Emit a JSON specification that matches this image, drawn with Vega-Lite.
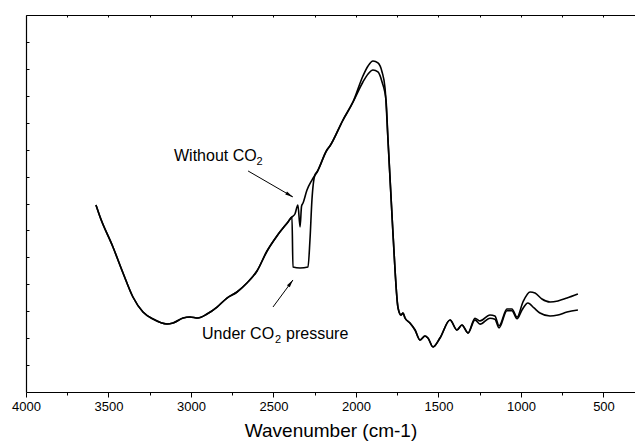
{
  "$schema": "https://vega.github.io/schema/vega-lite/v6.json",
  "width": 609,
  "height": 377,
  "autosize": {"type": "none"},
  "padding": {"left": 26, "top": 15, "right": 0, "bottom": 54},
  "background": "white",
  "config": {
    "view": {"stroke": null},
    "font": "Liberation Sans",
    "axis": {"grid": false, "domainColor": "black", "tickColor": "black", "labelColor": "black", "titleColor": "black", "labelFont": "Liberation Sans", "titleFont": "Liberation Sans", "domainWidth": 1.2, "tickWidth": 1}
  },
  "datasets": {
    "spectra": [
      {"series": "A", "wn": 3576, "t": 34.72}, {"series": "A", "wn": 3551, "t": 32.49}, {"series": "A", "wn": 3473, "t": 26.92}, {"series": "A", "wn": 3412, "t": 22.10}, {"series": "A", "wn": 3352, "t": 17.64}, {"series": "A", "wn": 3291, "t": 14.85}, {"series": "A", "wn": 3230, "t": 13.55}, {"series": "A", "wn": 3145, "t": 12.63}, {"series": "A", "wn": 3109, "t": 12.81}, {"series": "A", "wn": 3048, "t": 13.74}, {"series": "A", "wn": 3006, "t": 13.93}, {"series": "A", "wn": 2958, "t": 13.74}, {"series": "A", "wn": 2903, "t": 14.48}, {"series": "A", "wn": 2842, "t": 15.78}, {"series": "A", "wn": 2782, "t": 17.45}, {"series": "A", "wn": 2721, "t": 18.57}, {"series": "A", "wn": 2661, "t": 20.24}, {"series": "A", "wn": 2600, "t": 22.47}, {"series": "A", "wn": 2539, "t": 26.18}, {"series": "A", "wn": 2479, "t": 28.97}, {"series": "A", "wn": 2412, "t": 31.57}, {"series": "A", "wn": 2388, "t": 32.49},
      {"series": "A", "wn": 2370, "t": 33.05}, {"series": "A", "wn": 2352, "t": 34.72}, {"series": "A", "wn": 2339, "t": 30.64}, {"series": "A", "wn": 2330, "t": 34.5}, {"series": "A", "wn": 2321, "t": 35.09}, {"series": "A", "wn": 2297, "t": 37.51}, {"series": "A", "wn": 2267, "t": 39.36},
      {"series": "A", "wn": 2236, "t": 40.85}, {"series": "A", "wn": 2176, "t": 44.93}, {"series": "A", "wn": 2158, "t": 45.68}, {"series": "A", "wn": 2079, "t": 50.50}, {"series": "A", "wn": 2018, "t": 53.85},
      {"series": "A", "wn": 1958, "t": 58.67}, {"series": "A", "wn": 1927, "t": 60.53}, {"series": "A", "wn": 1897, "t": 61.46}, {"series": "A", "wn": 1867, "t": 61.09}, {"series": "A", "wn": 1842, "t": 59.42}, {"series": "A", "wn": 1824, "t": 56.45},
      {"series": "A", "wn": 1806, "t": 46.79}, {"series": "A", "wn": 1776, "t": 29.52}, {"series": "A", "wn": 1745, "t": 15.60}, {"series": "A", "wn": 1727, "t": 14.30}, {"series": "A", "wn": 1715, "t": 14.67}, {"series": "A", "wn": 1703, "t": 13.74}, {"series": "A", "wn": 1673, "t": 12.81}, {"series": "A", "wn": 1642, "t": 11.51}, {"series": "A", "wn": 1612, "t": 9.66}, {"series": "A", "wn": 1582, "t": 10.40}, {"series": "A", "wn": 1564, "t": 10.03}, {"series": "A", "wn": 1533, "t": 8.36}, {"series": "A", "wn": 1491, "t": 10.03}, {"series": "A", "wn": 1430, "t": 13.37}, {"series": "A", "wn": 1388, "t": 11.51}, {"series": "A", "wn": 1358, "t": 12.44}, {"series": "A", "wn": 1321, "t": 10.96}, {"series": "A", "wn": 1279, "t": 13.7}, {"series": "A", "wn": 1248, "t": 13.2}, {"series": "A", "wn": 1188, "t": 14.3}, {"series": "A", "wn": 1158, "t": 14.1}, {"series": "A", "wn": 1133, "t": 12.3}, {"series": "A", "wn": 1085, "t": 15.4}, {"series": "A", "wn": 1055, "t": 15.4}, {"series": "A", "wn": 1024, "t": 13.9},
      {"series": "A", "wn": 988, "t": 16.71}, {"series": "A", "wn": 945, "t": 18.57}, {"series": "A", "wn": 915, "t": 18.38}, {"series": "A", "wn": 873, "t": 17.27}, {"series": "A", "wn": 824, "t": 16.71}, {"series": "A", "wn": 776, "t": 16.90}, {"series": "A", "wn": 721, "t": 17.45}, {"series": "A", "wn": 655, "t": 18.20},
      {"series": "B", "wn": 3576, "t": 34.72}, {"series": "B", "wn": 3551, "t": 32.49}, {"series": "B", "wn": 3473, "t": 26.92}, {"series": "B", "wn": 3412, "t": 22.10}, {"series": "B", "wn": 3352, "t": 17.64}, {"series": "B", "wn": 3291, "t": 14.85}, {"series": "B", "wn": 3230, "t": 13.55}, {"series": "B", "wn": 3145, "t": 12.63}, {"series": "B", "wn": 3109, "t": 12.81}, {"series": "B", "wn": 3048, "t": 13.74}, {"series": "B", "wn": 3006, "t": 13.93}, {"series": "B", "wn": 2958, "t": 13.74}, {"series": "B", "wn": 2903, "t": 14.48}, {"series": "B", "wn": 2842, "t": 15.78}, {"series": "B", "wn": 2782, "t": 17.45}, {"series": "B", "wn": 2721, "t": 18.57}, {"series": "B", "wn": 2661, "t": 20.24}, {"series": "B", "wn": 2600, "t": 22.47}, {"series": "B", "wn": 2539, "t": 26.18}, {"series": "B", "wn": 2479, "t": 28.97}, {"series": "B", "wn": 2412, "t": 31.57}, {"series": "B", "wn": 2388, "t": 32.49},
      {"series": "B", "wn": 2382, "t": 23.21}, {"series": "B", "wn": 2339, "t": 23.02}, {"series": "B", "wn": 2291, "t": 23.21}, {"series": "B", "wn": 2279, "t": 28.22}, {"series": "B", "wn": 2267, "t": 35.65}, {"series": "B", "wn": 2249, "t": 40.29},
      {"series": "B", "wn": 2236, "t": 40.85}, {"series": "B", "wn": 2176, "t": 44.93}, {"series": "B", "wn": 2158, "t": 45.68}, {"series": "B", "wn": 2079, "t": 50.50}, {"series": "B", "wn": 2018, "t": 53.85},
      {"series": "B", "wn": 1958, "t": 57.56}, {"series": "B", "wn": 1927, "t": 59.05}, {"series": "B", "wn": 1897, "t": 59.79}, {"series": "B", "wn": 1867, "t": 59.42}, {"series": "B", "wn": 1842, "t": 57.56}, {"series": "B", "wn": 1818, "t": 54.22},
      {"series": "B", "wn": 1806, "t": 46.79}, {"series": "B", "wn": 1776, "t": 29.52}, {"series": "B", "wn": 1745, "t": 15.60}, {"series": "B", "wn": 1727, "t": 14.30}, {"series": "B", "wn": 1715, "t": 14.67}, {"series": "B", "wn": 1703, "t": 13.74}, {"series": "B", "wn": 1673, "t": 12.81}, {"series": "B", "wn": 1642, "t": 11.51}, {"series": "B", "wn": 1612, "t": 9.66}, {"series": "B", "wn": 1582, "t": 10.40}, {"series": "B", "wn": 1564, "t": 10.03}, {"series": "B", "wn": 1533, "t": 8.36}, {"series": "B", "wn": 1491, "t": 10.03}, {"series": "B", "wn": 1430, "t": 13.37}, {"series": "B", "wn": 1388, "t": 11.51}, {"series": "B", "wn": 1358, "t": 12.44}, {"series": "B", "wn": 1321, "t": 10.96}, {"series": "B", "wn": 1279, "t": 13.4}, {"series": "B", "wn": 1248, "t": 12.6}, {"series": "B", "wn": 1188, "t": 13.7}, {"series": "B", "wn": 1158, "t": 13.5}, {"series": "B", "wn": 1133, "t": 11.9}, {"series": "B", "wn": 1085, "t": 15.1}, {"series": "B", "wn": 1055, "t": 15.1}, {"series": "B", "wn": 1024, "t": 13.6},
      {"series": "B", "wn": 994, "t": 15.23}, {"series": "B", "wn": 958, "t": 16.53}, {"series": "B", "wn": 921, "t": 15.60}, {"series": "B", "wn": 885, "t": 14.67}, {"series": "B", "wn": 824, "t": 14.11}, {"series": "B", "wn": 776, "t": 14.30}, {"series": "B", "wn": 721, "t": 14.85}, {"series": "B", "wn": 655, "t": 15.23}
    ],
    "labels": [
      {"name": "w", "label": "Without CO", "wn": 3103, "t": 42.89},
      {"name": "u", "label": "Under CO", "wn": 2933, "t": 9.84},
      {"name": "p", "label": "pressure", "wn": 2424, "t": 9.84}
    ],
    "subs": [
      {"label": "2", "wn": 2603, "t": 42.15},
      {"label": "2", "wn": 2491, "t": 9.10}
    ],
    "arrows": [
      {"name": "w", "wn": 2654, "t": 41.04, "wn2": 2382, "t2": 36.21},
      {"name": "u", "wn": 2503, "t": 15.78, "wn2": 2382, "t2": 20.80}
    ],
    "heads": [
      {"name": "w", "wn": 2403, "t": 36.58},
      {"name": "u", "wn": 2396, "t": 20.20}
    ]
  },
  "resolve": {"axis": {"x": "independent", "y": "independent"}},
  "layer": [
    {
      "data": {"name": "spectra"},
      "mark": {"type": "line", "color": "black", "strokeWidth": 1.6, "clip": true, "interpolate": "monotone"},
      "encoding": {
        "x": {"field": "wn", "type": "quantitative", "scale": {"domain": [4000, 309], "nice": false, "zero": false},
          "axis": {"orient": "bottom", "title": "Wavenumber (cm-1)", "values": [4000, 3750, 3500, 3250, 3000, 2750, 2500, 2250, 2000, 1750, 1500, 1250, 1000, 750, 500], "format": "d", "labelExpr": "datum.value % 500 === 0 ? datum.label : ''", "tickSize": {"condition": {"test": "datum.value % 500 === 0", "value": 5}, "value": 3}, "labelFontSize": 13, "labelPadding": 3, "labelFlush": false, "labelOverlap": false, "titleFontSize": 19, "titleFontWeight": "normal", "titlePadding": 8}},
        "y": {"field": "t", "type": "quantitative", "scale": {"domain": [0, 70], "nice": false, "zero": false},
          "axis": {"orient": "left", "title": null, "values": [5, 10, 15, 20, 25, 30, 35, 40, 45, 50, 55, 60, 65], "labels": false, "tickSize": -3}},
        "detail": {"field": "series"}
      }
    },
    {
      "data": {"name": "arrows"},
      "mark": {"type": "rule", "color": "black", "strokeWidth": 1},
      "encoding": {
        "x": {"field": "wn", "type": "quantitative", "axis": {"orient": "top", "title": null, "labels": false, "values": [4000, 3750, 3500, 3250, 3000, 2750, 2500, 2250, 2000, 1750, 1500, 1250, 1000, 750, 500], "tickSize": -2}},
        "x2": {"field": "wn2"},
        "y": {"field": "t", "type": "quantitative", "axis": null},
        "y2": {"field": "t2"}
      }
    },
    {
      "data": {"name": "heads"},
      "transform": [{"filter": "datum.name === 'w'"}],
      "mark": {"type": "point", "shape": "M0,-1L0.45,1L-0.45,1Z", "filled": true, "color": "black", "opacity": 1, "size": 60, "angle": 120},
      "encoding": {
        "x": {"field": "wn", "type": "quantitative", "axis": null},
        "y": {"field": "t", "type": "quantitative", "axis": null}
      }
    },
    {
      "data": {"name": "heads"},
      "transform": [{"filter": "datum.name === 'u'"}],
      "mark": {"type": "point", "shape": "M0,-1L0.45,1L-0.45,1Z", "filled": true, "color": "black", "opacity": 1, "size": 60, "angle": 36},
      "encoding": {
        "x": {"field": "wn", "type": "quantitative", "axis": null},
        "y": {"field": "t", "type": "quantitative", "axis": null}
      }
    },
    {
      "data": {"name": "labels"},
      "mark": {"type": "text", "align": "left", "baseline": "alphabetic", "fontSize": 16, "color": "black", "font": "Liberation Sans"},
      "encoding": {
        "x": {"field": "wn", "type": "quantitative", "axis": null},
        "y": {"field": "t", "type": "quantitative", "axis": null},
        "text": {"field": "label"}
      }
    },
    {
      "data": {"name": "subs"},
      "mark": {"type": "text", "align": "left", "baseline": "alphabetic", "fontSize": 11, "color": "black", "font": "Liberation Sans"},
      "encoding": {
        "x": {"field": "wn", "type": "quantitative", "axis": null},
        "y": {"field": "t", "type": "quantitative", "axis": null},
        "text": {"field": "label"}
      }
    }
  ]
}
